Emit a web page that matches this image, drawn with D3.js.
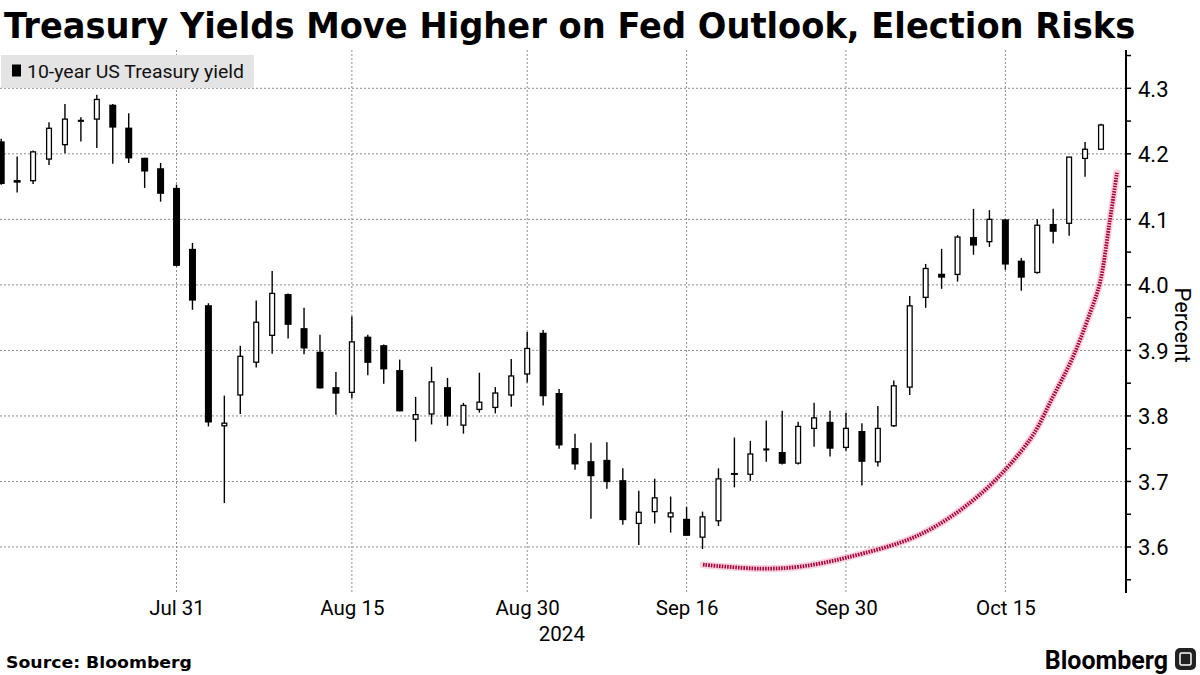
<!DOCTYPE html>
<html><head><meta charset="utf-8">
<script src="https://cdn.jsdelivr.net/npm/d3@7"></script>
<style>
html,body{margin:0;padding:0;background:#fff;}
svg{display:block;}
</style></head>
<body>
<svg id="chart" width="1200" height="675"></svg>
<script>
const dates = ["2024-07-16","2024-07-17","2024-07-18","2024-07-19","2024-07-22","2024-07-23","2024-07-24","2024-07-25","2024-07-26","2024-07-29","2024-07-30","2024-07-31",
"2024-08-01","2024-08-02","2024-08-05","2024-08-06","2024-08-07","2024-08-08","2024-08-09","2024-08-12","2024-08-13","2024-08-14","2024-08-15","2024-08-16","2024-08-19","2024-08-20","2024-08-21","2024-08-22","2024-08-23","2024-08-26","2024-08-27","2024-08-28","2024-08-29","2024-08-30",
"2024-09-03","2024-09-04","2024-09-05","2024-09-06","2024-09-09","2024-09-10","2024-09-11","2024-09-12","2024-09-13","2024-09-16","2024-09-17","2024-09-18","2024-09-19","2024-09-20","2024-09-23","2024-09-24","2024-09-25","2024-09-26","2024-09-27","2024-09-30",
"2024-10-01","2024-10-02","2024-10-03","2024-10-04","2024-10-07","2024-10-08","2024-10-09","2024-10-10","2024-10-11","2024-10-15","2024-10-16","2024-10-17","2024-10-18","2024-10-21","2024-10-22","2024-10-23"];
const openV  = [4.219,4.160,4.159,4.192,4.214,4.250,4.253,4.275,4.240,4.194,4.178,4.148,
4.055,3.969,3.785,3.832,3.882,3.923,3.986,3.934,3.898,3.844,3.836,3.921,3.908,3.870,3.795,3.803,3.844,3.786,3.810,3.813,3.832,3.864,
3.927,3.835,3.751,3.731,3.733,3.702,3.636,3.654,3.646,3.643,3.615,3.640,3.713,3.711,3.7485,3.745,3.728,3.781,3.791,3.752,
3.777,3.730,3.785,3.844,3.981,4.017,4.016,4.073,4.066,4.100,4.037,4.019,4.093,4.094,4.193,4.207];
const highV  = [4.223,4.196,4.205,4.248,4.276,4.256,4.290,4.276,4.262,4.194,4.186,4.153,
4.064,3.972,3.831,3.907,3.976,4.021,3.987,3.965,3.924,3.867,3.952,3.924,3.909,3.886,3.829,3.875,3.858,3.820,3.866,3.844,3.887,3.928,
3.931,3.841,3.773,3.759,3.760,3.720,3.686,3.704,3.677,3.661,3.654,3.720,3.767,3.762,3.793,3.808,3.791,3.820,3.808,3.805,
3.789,3.815,3.854,3.983,4.032,4.055,4.076,4.116,4.114,4.100,4.041,4.100,4.116,4.195,4.218,4.246];
const lowV   = [4.153,4.141,4.154,4.183,4.201,4.219,4.209,4.185,4.186,4.148,4.127,4.028,
3.962,3.784,3.667,3.803,3.874,3.895,3.918,3.894,3.842,3.802,3.827,3.862,3.849,3.807,3.761,3.787,3.785,3.773,3.805,3.804,3.814,3.851,
3.816,3.750,3.718,3.643,3.689,3.634,3.603,3.636,3.622,3.617,3.597,3.632,3.691,3.701,3.730,3.726,3.726,3.753,3.738,3.747,
3.694,3.723,3.783,3.832,3.965,3.994,4.005,4.046,4.058,4.023,3.991,4.017,4.063,4.075,4.165,4.207];
const closeV = [4.154,4.156,4.203,4.239,4.253,4.251,4.283,4.240,4.193,4.173,4.139,4.029,
3.976,3.790,3.789,3.891,3.943,3.987,3.939,3.903,3.842,3.834,3.913,3.881,3.871,3.807,3.802,3.852,3.799,3.816,3.821,3.835,3.861,3.903,
3.830,3.755,3.726,3.708,3.699,3.641,3.653,3.675,3.652,3.617,3.646,3.704,3.710,3.742,3.7495,3.727,3.784,3.797,3.750,3.781,
3.730,3.781,3.846,3.968,4.025,4.011,4.073,4.060,4.100,4.031,4.011,4.091,4.081,4.195,4.207,4.244];

const xTickDates  = ["2024-07-31","2024-08-15","2024-08-30","2024-09-16","2024-09-30","2024-10-15"];
const xTickLabels = ["Jul 31","Aug 15","Aug 30","Sep 16","Sep 30","Oct 15"];
const yTicks = [3.6,3.7,3.8,3.9,4.0,4.1,4.2,4.3];
const yTickLabels = ["3.6","3.7","3.8","3.9","4.0","4.1","4.2","4.3"];
// hand-drawn annotation arc: [trading-day index, yield]
const arcIdx = [44.03,47.6,50.1,53.06,57.64,61.4,64.54,65.98,67.24,68.31,68.93,69.56,70.0];
const arcVal = [3.573,3.567,3.570,3.584,3.619,3.680,3.764,3.829,3.890,3.957,4.003,4.099,4.171];

const title = "Treasury Yields Move Higher on Fed Outlook, Election Risks";
const legendLabel = "10-year US Treasury yield";
const yAxisTitle = "Percent";
const yearLabel = "2024";
const sourceText = "Source: Bloomberg";

const svg = d3.select("#chart");
const plot = {left:0, right:1126, top:50, bottom:593};
const NARROW = "'Roboto','Liberation Sans',sans-serif";
const HEAVY = "'DejaVu Sans',sans-serif";

const x = d3.scalePoint().domain(dates).range([1.2, 1101]);
const xi = d3.scaleLinear().domain([0, dates.length-1]).range(x.range());
const y = d3.scaleLinear().domain([3.6, 4.3]).range([547, 88.3]);

// Title (scaled horizontally to fit the reference width)
const tt = svg.append("text").attr("x",0).attr("y",0)
  .attr("font-family",HEAVY).attr("font-weight","bold")
  .attr("font-size",36).attr("fill","#000").text(title);
const tw = tt.node().getComputedTextLength();
tt.attr("transform",`translate(4,38) scale(${1132/tw},1)`);

svg.append("clipPath").attr("id","pc").append("rect")
  .attr("x",plot.left).attr("y",plot.top).attr("width",plot.right-plot.left).attr("height",plot.bottom-plot.top);

const g = svg.append("g");
g.append("g").selectAll("line").data(yTicks).join("line")
  .attr("x1",plot.left).attr("x2",plot.right)
  .attr("y1",d=>y(d)).attr("y2",d=>y(d))
  .attr("stroke","#8c8c8c").attr("stroke-width",1).attr("stroke-dasharray","2,2");
g.append("g").selectAll("line").data(xTickDates).join("line")
  .attr("x1",d=>x(d)).attr("x2",d=>x(d))
  .attr("y1",plot.top).attr("y2",plot.bottom)
  .attr("stroke","#8c8c8c").attr("stroke-width",1).attr("stroke-dasharray","2,2");

// Legend
const lg = svg.append("g");
lg.append("rect").attr("x",1).attr("y",55).attr("width",253).attr("height",33).attr("fill","#e4e4e4");
lg.append("rect").attr("x",12).attr("y",64.5).attr("width",9).attr("height",12).attr("fill","#000");
lg.append("text").attr("x",27).attr("y",78).attr("font-family",NARROW)
  .attr("font-size",18.5).attr("fill","#111").text(legendLabel)
  .attr("textLength",217).attr("lengthAdjust","spacingAndGlyphs");

// candles
const candles = dates.map((d,i)=>({d,o:openV[i],h:highV[i],l:lowV[i],c:closeV[i]}));
const cg = svg.append("g").attr("clip-path","url(#pc)");
cg.selectAll("line.wick").data(candles).join("line").attr("class","wick")
  .attr("x1",d=>x(d.d)).attr("x2",d=>x(d.d))
  .attr("y1",d=>y(d.h)).attr("y2",d=>y(d.l))
  .attr("stroke","#000").attr("stroke-width",1.4);
cg.selectAll("rect.body").data(candles).join("rect").attr("class","body")
  .attr("x",d=> d.c>=d.o ? x(d.d)-2.4 : x(d.d)-3.5)
  .attr("width",d=> d.c>=d.o ? 4.8 : 7)
  .attr("y",d=>y(Math.max(d.o,d.c)))
  .attr("height",d=>Math.max(0.8, Math.abs(y(d.o)-y(d.c))))
  .attr("fill",d=> d.c>=d.o ? "#fff" : "#000")
  .attr("stroke","#000").attr("stroke-width",d=> d.c>=d.o ? 1.3 : 0);

// annotation arc
const arcPts = arcIdx.map((v,i)=>[xi(v), y(arcVal[i])]);
const arcLine = d3.line().curve(d3.curveCatmullRom.alpha(0.5));
svg.append("path").attr("d",arcLine(arcPts)).attr("fill","none")
  .attr("stroke","#f4a9c0").attr("stroke-width",7).attr("stroke-opacity",0.5).attr("stroke-linecap","round");
svg.append("path").attr("d",arcLine(arcPts)).attr("fill","none")
  .attr("stroke","#a8003a").attr("stroke-width",3.8).attr("stroke-dasharray","1.6,1.1");

// right axis
const minorTicks = d3.range(3.55, 4.351, 0.05);
const ax = svg.append("g");
ax.append("line").attr("x1",plot.right).attr("x2",plot.right).attr("y1",plot.top).attr("y2",plot.bottom)
  .attr("stroke","#000").attr("stroke-width",2);
ax.selectAll("line.mt").data(minorTicks).join("line").attr("class","mt")
  .attr("x1",plot.right).attr("x2",plot.right+5).attr("y1",d=>y(d)).attr("y2",d=>y(d))
  .attr("stroke","#000").attr("stroke-width",1.5);
const yAxis = d3.axisRight(y).tickValues(yTicks).tickSize(0).tickPadding(12)
  .tickFormat((d,i)=>yTickLabels[i]);
const yg = svg.append("g").attr("transform",`translate(${plot.right},0)`).call(yAxis);
yg.select(".domain").remove();
yg.selectAll("text").attr("font-family",NARROW).attr("font-size",22).attr("fill","#000").attr("dy","0.36em");

svg.append("text").attr("transform",`translate(1175,325) rotate(90)`)
  .attr("text-anchor","middle").attr("font-family",NARROW)
  .attr("font-size",22).attr("fill","#000").text(yAxisTitle);

// bottom axis
const xAxis = d3.axisBottom(x).tickValues(xTickDates).tickSize(0).tickPadding(7)
  .tickFormat((d,i)=>xTickLabels[i]);
const xg = svg.append("g").attr("transform",`translate(0,${plot.bottom})`).call(xAxis);
xg.select(".domain").remove();
xg.selectAll("text").attr("font-family",NARROW).attr("font-size",20.5).attr("fill","#000");
svg.append("text").attr("x",(x("2024-08-30")+x("2024-09-16"))/2 - 45).attr("y",641)
  .attr("text-anchor","middle").attr("font-family",NARROW).attr("font-size",20.5).attr("fill","#000").text(yearLabel);

// footer
svg.append("text").attr("x",6).attr("y",668).attr("font-family",HEAVY)
  .attr("font-weight","bold").attr("font-size",16.5).attr("fill","#000").text(sourceText)
  .attr("textLength",186).attr("lengthAdjust","spacingAndGlyphs");
svg.append("text").attr("x",1168).attr("y",669).attr("text-anchor","end")
  .attr("font-family",NARROW).attr("font-weight","bold").attr("font-size",25)
  .attr("fill","#000").text("Bloomberg");
const logo = svg.append("g");
logo.append("rect").attr("x",1175).attr("y",648).attr("width",21).attr("height",22).attr("rx",5).attr("fill","#222");
logo.append("rect").attr("x",1180).attr("y",653).attr("width",11).attr("height",12).attr("rx",1.5).attr("fill","none").attr("stroke","#fff").attr("stroke-width",1.5);
</script>
</body></html>
